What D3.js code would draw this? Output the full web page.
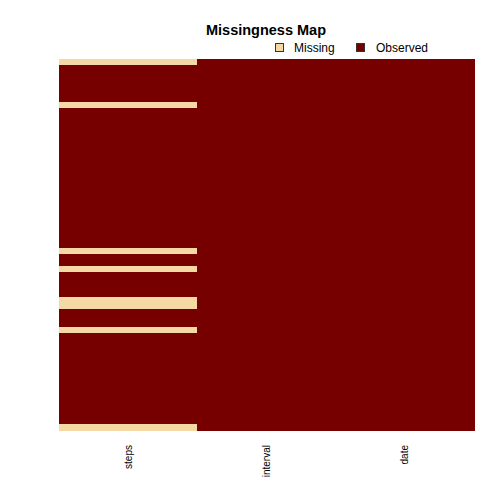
<!DOCTYPE html>
<html><head><meta charset="utf-8">
<script src="https://cdn.jsdelivr.net/npm/d3@7"></script>
<style>body{margin:0;background:#fff}svg{display:block;font-family:"Liberation Sans",Arial,sans-serif}</style>
</head><body>
<script>
const columns = ["steps", "interval", "date"];
const days = ["2012-10-01","2012-10-02","2012-10-03","2012-10-04","2012-10-05","2012-10-06","2012-10-07","2012-10-08","2012-10-09","2012-10-10",
"2012-10-11","2012-10-12","2012-10-13","2012-10-14","2012-10-15","2012-10-16","2012-10-17","2012-10-18","2012-10-19","2012-10-20",
"2012-10-21","2012-10-22","2012-10-23","2012-10-24","2012-10-25","2012-10-26","2012-10-27","2012-10-28","2012-10-29","2012-10-30",
"2012-10-31","2012-11-01","2012-11-02","2012-11-03","2012-11-04","2012-11-05","2012-11-06","2012-11-07","2012-11-08","2012-11-09",
"2012-11-10","2012-11-11","2012-11-12","2012-11-13","2012-11-14","2012-11-15","2012-11-16","2012-11-17","2012-11-18","2012-11-19",
"2012-11-20","2012-11-21","2012-11-22","2012-11-23","2012-11-24","2012-11-25","2012-11-26","2012-11-27","2012-11-28","2012-11-29",
"2012-11-30"];
const missingStepDays = ["2012-10-01","2012-10-08","2012-11-01","2012-11-04","2012-11-09","2012-11-10","2012-11-14","2012-11-30"];
const legendLabels = ["Missing", "Observed"];
const colors = {Missing: "#f5d9a5", Observed: "#760000"};

const W = 504, H = 504;
const svg = d3.select("body").append("svg").attr("width", W).attr("height", H);

const x = d3.scaleBand().domain(columns).range([59, 474]);
const y = d3.scaleBand().domain(days).range([59, 430.5]);

const cells = [];
days.forEach(d => columns.forEach(c => {
  const miss = c === "steps" && missingStepDays.includes(d);
  cells.push({day: d, col: c, status: miss ? "Missing" : "Observed"});
}));

svg.append("g").selectAll("rect").data(cells).join("rect")
  .attr("x", d => x(d.col)).attr("y", d => y(d.day))
  .attr("width", x.bandwidth() + 0.5).attr("height", y.bandwidth() + 0.5)
  .attr("fill", d => colors[d.status]).attr("shape-rendering", "crispEdges");

// column labels
svg.append("g").selectAll("text").data(columns).join("text")
  .attr("transform", d => `translate(${x(d) + x.bandwidth() / 2 + 3.5},445) rotate(-90)`)
  .attr("text-anchor", "end").attr("font-size", 10).attr("fill", "#000")
  .text(d => d);

// title
svg.append("text").attr("x", 266).attr("y", 35).attr("text-anchor", "middle")
  .attr("font-size", 14.5).attr("font-weight", "bold").text("Missingness Map");

// legend
const legX = [275, 356];
const leg = svg.append("g").selectAll("g").data(legendLabels).join("g")
  .attr("transform", (d, i) => `translate(${legX[i]},43)`);
leg.append("rect").attr("x", 0.5).attr("y", 0.5).attr("width", 8).attr("height", 8)
  .attr("fill", d => colors[d]).attr("stroke", "#333").attr("stroke-width", 1);
leg.append("text").attr("x", (d, i) => i === 0 ? 19 : 20).attr("y", 8.8)
  .attr("font-size", 12).text(d => d);
</script>
</body></html>
